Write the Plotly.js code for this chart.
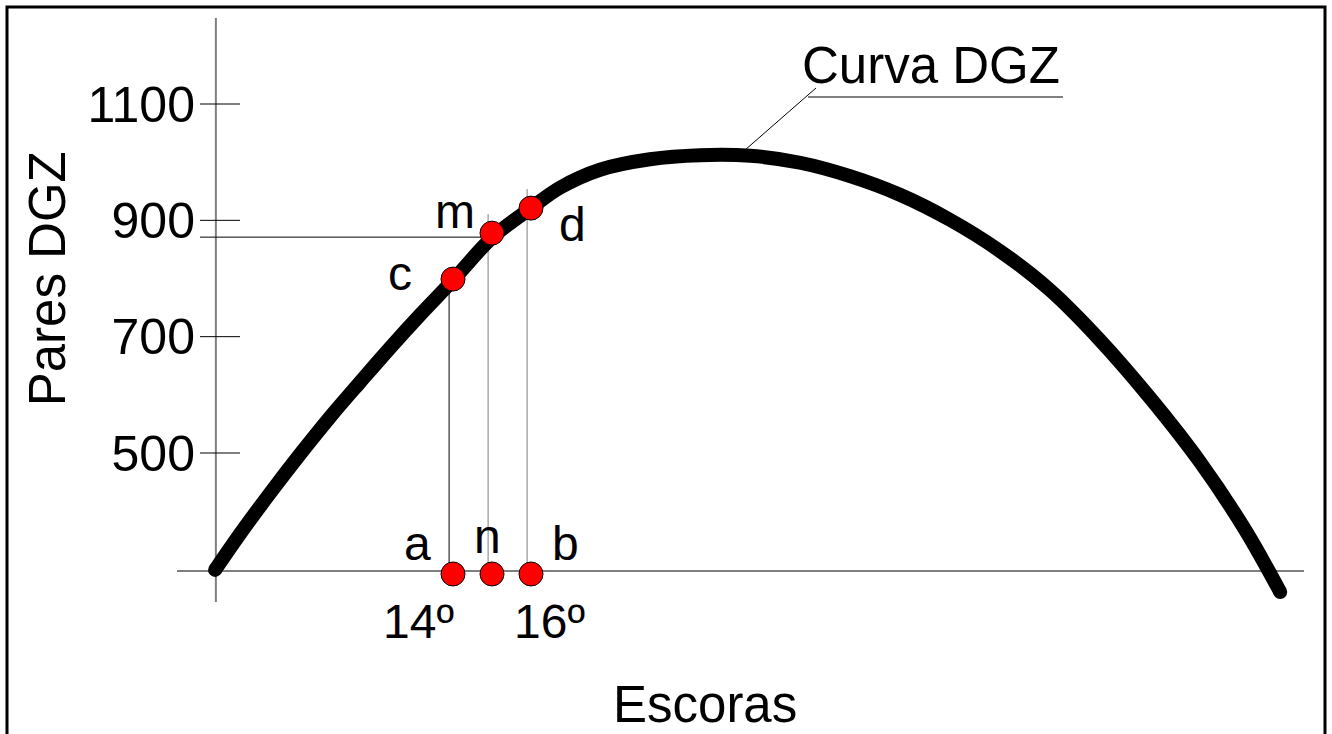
<!DOCTYPE html>
<html>
<head>
<meta charset="utf-8">
<script src="https://cdn.plot.ly/plotly-3.0.1.min.js"></script>
<style>
  html, body { margin: 0; padding: 0; background: #ffffff; }
  #chart { width: 1332px; height: 734px; }
</style>
</head>
<body>
<div id="chart"></div>
<script>
// ---- Data ----
// DGZ curve: escoras (degrees) vs pares DGZ
const curveX = [7.90, 8.54, 9.31, 10.08, 10.85, 11.62, 12.39, 13.15, 14.00, 15.00, 16.00, 16.74, 17.77, 19.05, 20.33, 21.62, 22.90, 24.18, 25.46, 26.74, 28.03, 29.31, 30.59, 31.87, 33.15, 34.31, 35.21];
const curveY = [299, 361, 431, 498, 562, 622, 681, 737, 797, 870, 921, 956, 987, 1005, 1012, 1011, 999, 976, 944, 901, 847, 780, 694, 595, 485, 368, 261];

// marked points
const pointNames = ['a', 'n', 'b', 'c', 'm', 'd'];
const pointX = [14, 15, 16, 14, 15, 16];
const pointY = [292, 292, 292, 799, 878, 921];

// axis ticks
const yTickVals = [500, 700, 900, 1100];
const yTickText = ['500', '700', '900', '1100'];
const xTickVals = [14, 16];
const xTickText = ['14º', '16º'];

const xAxisLevel = 297;      // value at which the horizontal axis is drawn
const yAxisAt = 7.92;        // value at which the vertical axis is drawn

// ---- Layout helpers ----
const W = 1332, H = 734;
const xRange = [2.385, 36.538];
const yRange = [16.9, 1278.8];
const px2x = p => xRange[0] + p / W * (xRange[1] - xRange[0]);
const py2y = p => yRange[1] - p / H * (yRange[1] - yRange[0]);

const FONT = 'Liberation Sans, Arial, Helvetica, sans-serif';
const GRAY = '#7f7f7f';

const shapes = [];
// border
shapes.push({type: 'rect', xref: 'paper', yref: 'paper', x0: 7 / W, x1: 1325 / W, y0: -0.05, y1: 1 - 7 / H,
  line: {color: '#000', width: 3}, fillcolor: 'rgba(0,0,0,0)', layer: 'below'});
// vertical axis line
shapes.push({type: 'line', xref: 'x', yref: 'y', x0: yAxisAt, x1: yAxisAt, y0: py2y(602), y1: py2y(18),
  line: {color: GRAY, width: 2}, layer: 'below'});
// horizontal axis line
shapes.push({type: 'line', xref: 'x', yref: 'y', x0: px2x(177), x1: px2x(1304), y0: xAxisLevel, y1: xAxisLevel,
  line: {color: GRAY, width: 2}, layer: 'below'});
// tick marks crossing the vertical axis
yTickVals.forEach(v => {
  shapes.push({type: 'line', xref: 'x', yref: 'y', x0: px2x(200), x1: px2x(240), y0: v, y1: v,
    line: {color: '#000', width: 1}, layer: 'below'});
});
// drop lines from c, m, d to the axis
const dropTopOffset = [0, 19, 19]; // px above the point where the line starts
for (let i = 3; i < 6; i++) {
  const xv = pointX[i] - 0.1;
  const top = pointY[i] + dropTopOffset[i - 3] / 0.581667;
  shapes.push({type: 'line', xref: 'x', yref: 'y', x0: xv, x1: xv, y0: xAxisLevel, y1: top,
    line: {color: i === 3 ? '#000' : GRAY, width: 1}, layer: 'below'});
}
// horizontal line from m to the vertical axis
shapes.push({type: 'line', xref: 'x', yref: 'y', x0: px2x(200), x1: pointX[4] - 0.1, y0: pointY[4] - 4 / 0.581667, y1: pointY[4] - 4 / 0.581667,
  line: {color: '#000', width: 1}, layer: 'below'});
// leader for "Curva DGZ"
shapes.push({type: 'line', xref: 'x', yref: 'y', x0: px2x(745), y0: py2y(150), x1: px2x(816), y1: py2y(88),
  line: {color: '#000', width: 1}});
shapes.push({type: 'line', xref: 'x', yref: 'y', x0: px2x(808), y0: py2y(97), x1: px2x(1063), y1: py2y(97),
  line: {color: '#000', width: 1}});

// annotations
const LBL = 48;
const base = s => 0.3465 * s; // baseline distance below text-box centre
const labelShift = {
  a: [-36, 574 - (560 - base(LBL))],
  n: [-5, 574 - (553 - base(LBL))],
  b: [34, 574 - (560 - base(LBL))],
  c: [-53, 279 - (290 - base(LBL))],
  m: [-37, 232 - (227 - base(LBL))],
  d: [41, 209 - (242 - base(LBL))]
};
const annotations = [];
pointNames.forEach((nm, i) => {
  annotations.push({x: pointX[i], y: pointY[i], xref: 'x', yref: 'y', text: nm, showarrow: false,
    xanchor: 'center', yanchor: 'middle', xshift: labelShift[nm][0], yshift: labelShift[nm][1],
    font: {family: FONT, size: LBL, color: '#000'}});
});
const xTickShift = [-35, 18];
xTickVals.forEach((v, i) => {
  annotations.push({x: v, y: xAxisLevel, xref: 'x', yref: 'y', text: xTickText[i], showarrow: false,
    xanchor: 'center', yanchor: 'middle', xshift: xTickShift[i], yshift: 571 - (638 - base(LBL)),
    font: {family: FONT, size: LBL, color: '#000'}});
});
// "Curva DGZ" label
annotations.push({x: px2x(800), y: py2y(83 - base(51)), xref: 'x', yref: 'y', text: 'Curva DGZ', showarrow: false,
  xanchor: 'left', yanchor: 'middle', font: {family: FONT, size: 51, color: '#000'}});
// axis titles
annotations.push({x: 705 / W, y: 0, xref: 'paper', yref: 'paper', text: 'Escoras', showarrow: false,
  xanchor: 'center', yanchor: 'bottom', borderpad: 0, font: {family: FONT, size: 51, color: '#000'}});
annotations.push({x: (65 - base(51)) / W, y: 1 - 279 / H, xref: 'paper', yref: 'paper', text: 'Pares DGZ', showarrow: false,
  textangle: -90, xanchor: 'center', yanchor: 'middle', font: {family: FONT, size: 51, color: '#000'}});

const traces = [
  {x: curveX, y: curveY, type: 'scatter', mode: 'lines', name: 'Curva DGZ',
   line: {color: '#000', width: 14, shape: 'spline', smoothing: 1.0}, hoverinfo: 'skip'},
  // round end caps of the curve
  {x: [curveX[0], curveX[curveX.length - 1]], y: [curveY[0], curveY[curveY.length - 1]], type: 'scatter', mode: 'markers',
   marker: {color: '#000', size: 14}, hoverinfo: 'skip', showlegend: false},
  {x: pointX, y: pointY, type: 'scatter', mode: 'markers', name: 'puntos', text: pointNames,
   marker: {color: '#ff0000', size: 24, line: {color: '#000', width: 1}}}
];

const layout = {
  width: W, height: H,
  margin: {l: 0, r: 0, t: 0, b: 0, pad: 0},
  paper_bgcolor: '#fff', plot_bgcolor: '#fff',
  showlegend: false,
  xaxis: {range: xRange, showgrid: false, zeroline: false, showline: false, showticklabels: false, ticks: '', fixedrange: true},
  yaxis: {range: yRange, anchor: 'free', position: 216 / W, side: 'left',
    tickmode: 'array', tickvals: yTickVals, ticktext: yTickText,
    ticks: 'outside', ticklen: 11, tickcolor: 'rgba(0,0,0,0)',
    tickfont: {family: FONT, size: 50, color: '#000'},
    showgrid: false, zeroline: false, showline: false, fixedrange: true},
  shapes: shapes,
  annotations: annotations
};

Plotly.newPlot('chart', traces, layout, {displayModeBar: false, staticPlot: true});
</script>
</body>
</html>
